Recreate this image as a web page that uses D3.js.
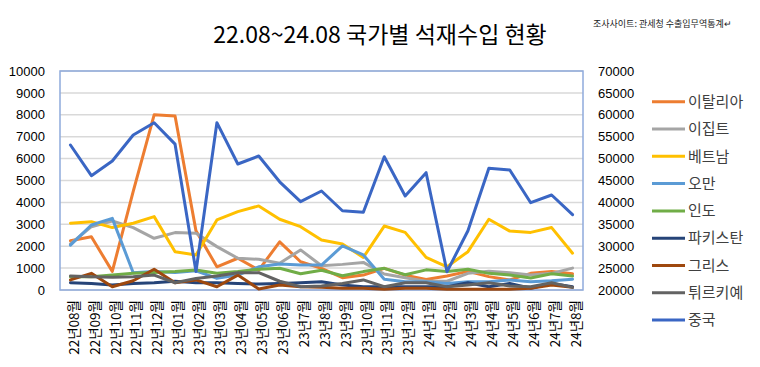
<!DOCTYPE html>
<html><head><meta charset="utf-8">
<script src="https://cdn.jsdelivr.net/npm/d3@7"></script>
<style>body{margin:0;background:#fff;}svg{display:block;}</style>
</head><body>
<script>
const categories = ["22년08월","22년09월","22년10월","22년11월","22년12월","23년01월","23년02월","23년03월","23년04월","23년05월","23년06월","23년7월","23년8월","23년9월","23년10월","23년11월","23년12월","24년1월","24년2월","24년3월","24년4월","24년5월","24년6월","24년7월","24년8월"];
const seriesNames = ["이탈리아","이집트","베트남","오만","인도","파키스탄","그리스","튀르키예","중국"];
const italy   = [2250,2430,850,4500,8000,7950,2700,1060,1450,910,2200,1290,990,560,680,990,680,480,640,850,610,460,760,840,740];
const egypt   = [2100,2890,3150,2850,2360,2620,2590,1980,1450,1400,1220,1830,1110,1170,1260,730,560,400,400,760,860,790,680,760,1000];
const vietnam = [3050,3120,2850,3050,3350,1750,1600,3200,3580,3840,3230,2890,2280,2100,1490,2920,2630,1490,1060,1750,3230,2690,2630,2850,1680];
const oman    = [2050,2970,3270,790,840,800,880,530,680,1060,1190,1140,1140,2010,1600,490,380,380,300,380,380,460,380,420,490];
const india   = [600,600,680,760,800,840,910,760,840,950,990,740,900,650,840,990,700,920,840,950,760,680,550,740,640];
const pakistan= [330,300,230,300,330,400,330,330,300,270,300,330,380,230,150,150,150,150,150,330,150,300,80,300,150];
const greece  = [460,760,150,420,950,330,460,150,680,50,230,150,120,80,80,30,80,80,30,30,30,30,80,230,120];
const turkey  = [640,610,580,610,680,330,530,640,790,790,400,150,180,300,460,150,330,330,150,230,330,180,150,330,120];
const china   = [53100,46100,49450,55400,58200,53300,24200,58200,48770,50600,44700,40160,42600,38100,37740,50430,41460,46780,24180,33540,47780,47400,39930,41690,37200];
const leftTicks  = [0,1000,2000,3000,4000,5000,6000,7000,8000,9000,10000];
const rightTicks = [20000,25000,30000,35000,40000,45000,50000,55000,60000,65000,70000];
const titleText = "22.08~24.08 국가별 석재수입 현황";
const noteText = "조사사이트: 관세청 수출입무역통계↵";

const colors = ["#ED7D31","#A5A5A5","#FFC000","#5B9BD5","#70AD47","#264478","#9E480E","#636363","#3A66C4"];
const seriesData = [italy,egypt,vietnam,oman,india,pakistan,greece,turkey,china];
const onRight = [false,false,false,false,false,false,false,false,true];

const W = 760, H = 367;
const L = 60, R = 583, T = 71, B = 290;
const svg = d3.select("body").append("svg").attr("width",W).attr("height",H);

const x = d3.scalePoint().domain(categories).range([L,R]).padding(0.5);
const yL = d3.scaleLinear().domain([0,10000]).range([B,T]);
const yR = d3.scaleLinear().domain([20000,70000]).range([B,T]);

// gridlines
svg.append("g").selectAll("line").data(leftTicks.slice(1)).join("line")
  .attr("x1",L).attr("x2",R).attr("y1",d=>yL(d)).attr("y2",d=>yL(d))
  .attr("stroke","#d9d9d9").attr("stroke-width",1.5);
svg.append("line").attr("x1",L).attr("x2",R).attr("y1",B).attr("y2",B)
  .attr("stroke","#d9d9d9").attr("stroke-width",1.5);

// plot border
svg.append("rect").attr("x",L).attr("y",T).attr("width",R-L).attr("height",B-T)
  .attr("fill","none").attr("stroke","#8FAADC").attr("stroke-width",1.5);

// left axis
const axL = svg.append("g").attr("transform",`translate(${L-15},0)`)
  .call(d3.axisLeft(yL).tickValues(leftTicks).tickSize(0).tickPadding(0).tickFormat(d3.format("d")));
axL.select(".domain").remove();
axL.selectAll("text").attr("font-family","'Liberation Sans', Arial, sans-serif").attr("font-size",13).attr("fill","#000");

// right axis
const axR = svg.append("g").attr("transform",`translate(${R+15},0)`)
  .call(d3.axisRight(yR).tickValues(rightTicks).tickSize(0).tickPadding(0).tickFormat(d3.format("d")));
axR.select(".domain").remove();
axR.selectAll("text").attr("font-family","'Liberation Sans', Arial, sans-serif").attr("font-size",13).attr("fill","#000");

// x labels
svg.append("g").selectAll("text").data(categories).join("text")
  .attr("transform",d=>`translate(${x(d)+3.5},300) rotate(-90)`)
  .attr("text-anchor","end").attr("dy","0.35em")
  .attr("font-family","'Noto Sans CJK KR', sans-serif").attr("font-size",13.5).attr("fill","#000")
  .text(d=>d);

// lines
seriesData.forEach((vals,i)=>{
  const ys = onRight[i] ? yR : yL;
  const line = d3.line().x((d,j)=>x(categories[j])).y(d=>ys(d));
  svg.append("path").datum(vals).attr("d",line)
    .attr("fill","none").attr("stroke",colors[i]).attr("stroke-width",3)
    .attr("stroke-linejoin","round").attr("stroke-linecap","round");
});

// legend
const lg = svg.append("g");
seriesNames.forEach((n,i)=>{
  const yy = 101.7 + i*27.3;
  lg.append("line").attr("x1",652).attr("x2",685).attr("y1",yy).attr("y2",yy)
    .attr("stroke",colors[i]).attr("stroke-width",3);
  lg.append("text").attr("x",688).attr("y",yy).attr("dy","0.35em")
    .attr("font-family","'Noto Sans CJK KR', sans-serif").attr("font-size",15).attr("fill","#404040")
    .text(n);
});

// title
svg.append("text").attr("x",380).attr("y",43).attr("text-anchor","middle")
  .attr("font-family","'Noto Sans CJK KR', sans-serif").attr("font-size",23).attr("fill","#000")
  .text(titleText);

// note
svg.append("text").attr("x",593).attr("y",27)
  .attr("font-family","'Noto Sans CJK KR', sans-serif").attr("font-size",9).attr("fill","#222")
  .text(noteText);
</script>
</body></html>
